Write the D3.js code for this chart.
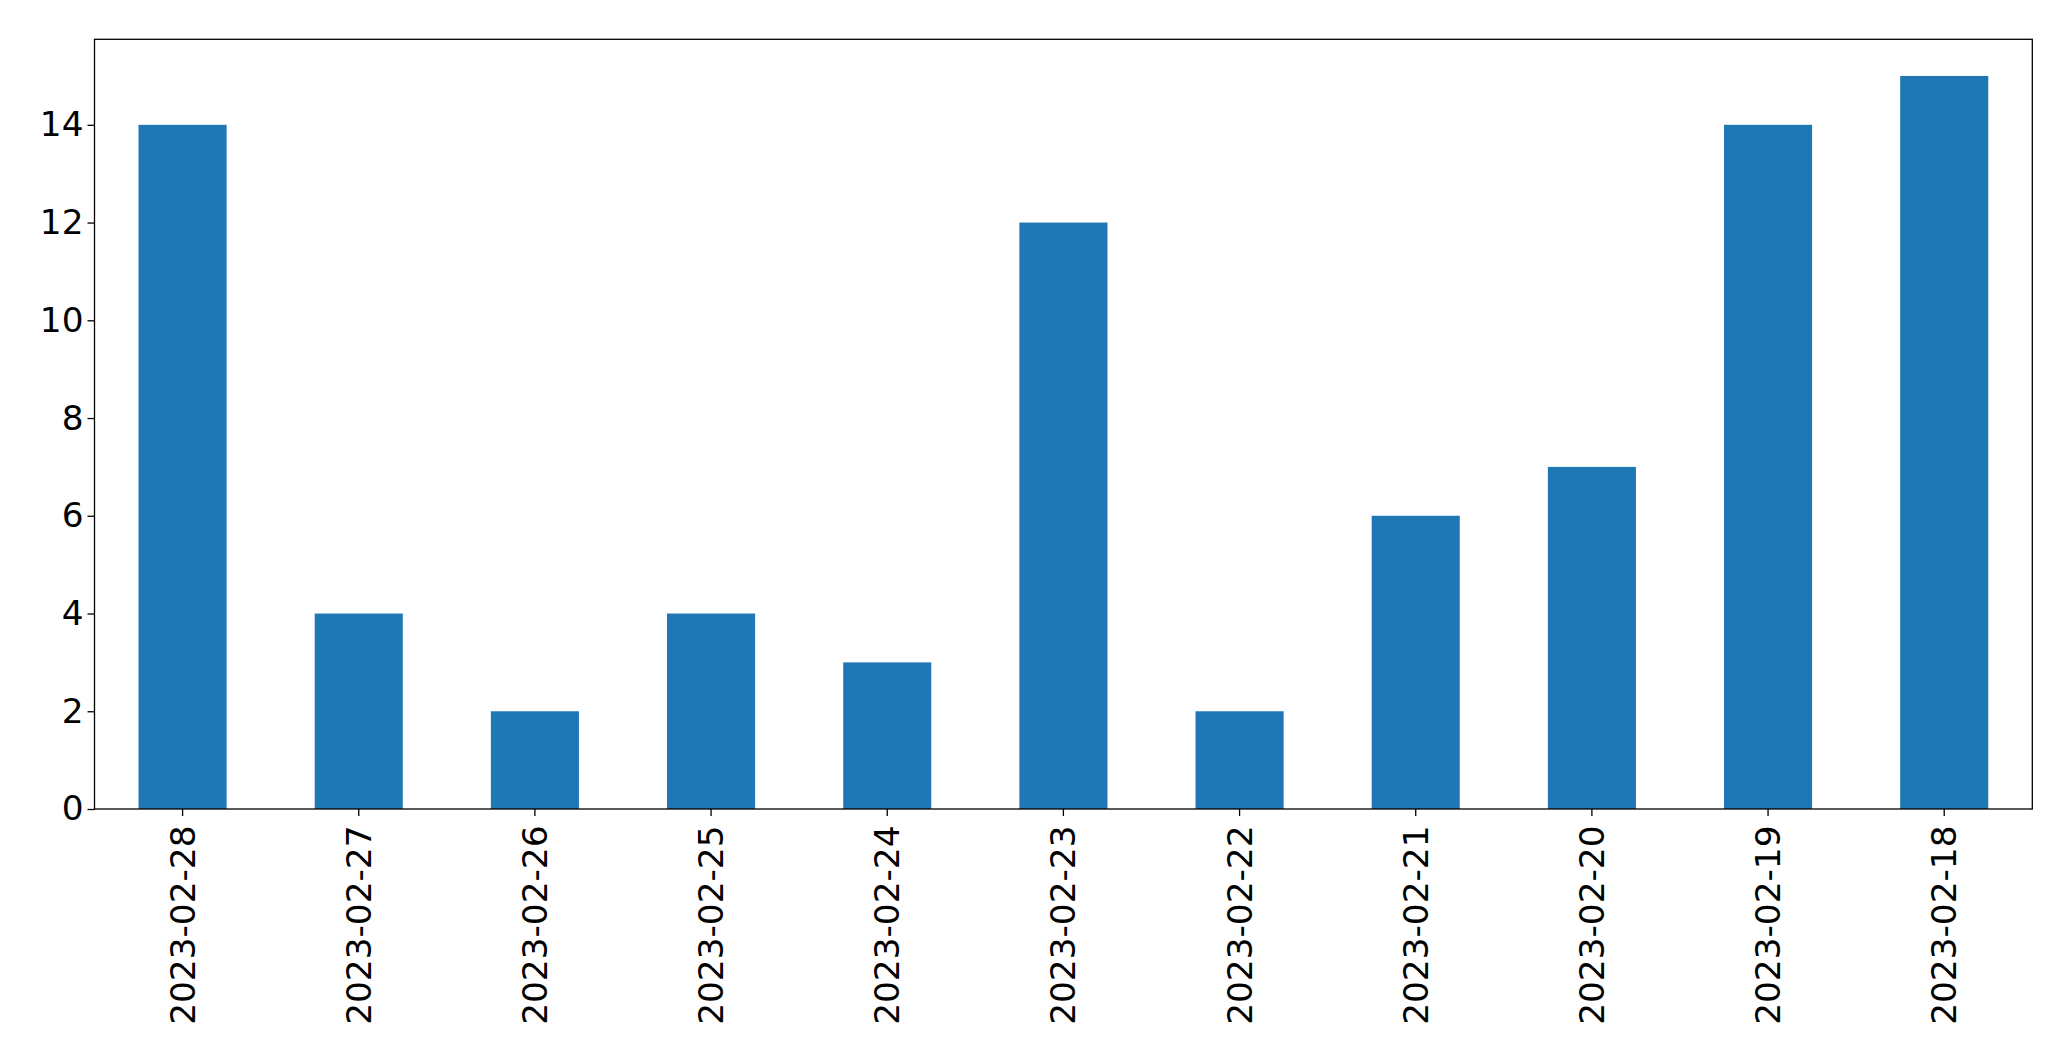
<!DOCTYPE html>
<html>
<head>
<meta charset="utf-8">
<script src="https://cdn.jsdelivr.net/npm/d3@7"></script>
<style>
  html, body { margin: 0; padding: 0; background: #fff; }
  svg { display: block; }
</style>
</head>
<body>
<svg id="chart" width="2071" height="1061"></svg>
<script>
const categories = ["2023-02-28","2023-02-27","2023-02-26","2023-02-25","2023-02-24","2023-02-23","2023-02-22","2023-02-21","2023-02-20","2023-02-19","2023-02-18"];
const values = [14, 4, 2, 4, 3, 12, 2, 6, 7, 14, 15];
const yTicks = [0, 2, 4, 6, 8, 10, 12, 14];

(function () {
const mLeft = 94.5, mRight = 2032.3, mTop = 39.3, mBottom = 809;
const fontSize = 34.3;
const svg = d3.select("#chart");

const x = d3.scaleBand().domain(categories).range([mLeft, mRight]).paddingInner(0.5).paddingOuter(0.25);
const y = d3.scaleLinear().domain([0, 15.75]).range([mBottom, mTop]);

svg.append("g").selectAll("rect").data(values).join("rect")
  .attr("x", (d, i) => x(categories[i]))
  .attr("width", x.bandwidth())
  .attr("y", d => y(d))
  .attr("height", d => y(0) - y(d))
  .attr("fill", "#1f77b4");

// frame
svg.append("rect")
  .attr("x", mLeft).attr("y", mTop)
  .attr("width", mRight - mLeft).attr("height", mBottom - mTop)
  .attr("fill", "none").attr("stroke", "#000").attr("stroke-width", 1.3);

// y axis
const yAxis = d3.axisLeft(y).tickValues(yTicks).tickSize(7).tickPadding(4).tickFormat(d3.format("d"));
const gy = svg.append("g").attr("transform", `translate(${mLeft},0)`).call(yAxis);
gy.select(".domain").remove();
gy.selectAll(".tick line").attr("stroke", "#000").attr("stroke-width", 1.3);
gy.selectAll(".tick text")
  .attr("font-family", "DejaVu Sans")
  .attr("font-size", fontSize)
  .attr("fill", "#000");

// x axis
const xAxis = d3.axisBottom(x).tickSize(7).tickPadding(0);
const gx = svg.append("g").attr("transform", `translate(0,${mBottom})`).call(xAxis);
gx.select(".domain").remove();
gx.selectAll(".tick line").attr("stroke", "#000").attr("stroke-width", 1.3);
gx.selectAll(".tick text")
  .attr("font-family", "DejaVu Sans")
  .attr("font-size", fontSize)
  .attr("fill", "#000")
  .attr("text-anchor", "end")
  .attr("dy", "0.35em")
  .attr("y", 0)
  .attr("transform", "translate(0,16.5) rotate(-90)");
})();
</script>
</body>
</html>
